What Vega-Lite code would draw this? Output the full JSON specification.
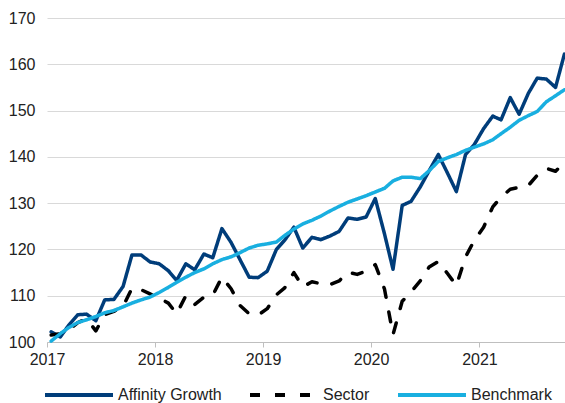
{
  "$schema": "https://vega.github.io/schema/vega-lite/v6.json",
  "width": 518,
  "height": 324,
  "autosize": {"type": "none"},
  "padding": {"left": 47, "top": 18, "right": 0, "bottom": 61},
  "config": {
    "view": {"stroke": null},
    "font": "Liberation Sans",
    "legend": {
      "orient": "none",
      "legendX": -4,
      "legendY": 341,
      "direction": "horizontal",
      "symbolType": "stroke",
      "symbolSize": 4624,
      "symbolStrokeWidth": 4,
      "labelFontSize": 16,
      "labelColor": "#222222",
      "labelOffset": 3,
      "columnPadding": 20,
      "title": null
    }
  },
  "data": {
    "values": [
      {"date": "2017-01-15", "Affinity Growth": 102.2, "Sector": 101.5, "Benchmark": 100.2},
      {"date": "2017-02-15", "Affinity Growth": 101.1, "Sector": 101.8, "Benchmark": 101.8},
      {"date": "2017-03-15", "Affinity Growth": 103.6, "Sector": 102.5, "Benchmark": 103.1},
      {"date": "2017-04-15", "Affinity Growth": 105.9, "Sector": 104.2, "Benchmark": 104.2},
      {"date": "2017-05-15", "Affinity Growth": 106.0, "Sector": 105.0, "Benchmark": 104.8},
      {"date": "2017-06-15", "Affinity Growth": 104.6, "Sector": 102.4, "Benchmark": 105.5},
      {"date": "2017-07-15", "Affinity Growth": 109.1, "Sector": 105.9, "Benchmark": 106.3},
      {"date": "2017-08-15", "Affinity Growth": 109.2, "Sector": 106.6, "Benchmark": 106.8},
      {"date": "2017-09-15", "Affinity Growth": 112.0, "Sector": 107.7, "Benchmark": 107.6},
      {"date": "2017-10-15", "Affinity Growth": 118.8, "Sector": 111.6, "Benchmark": 108.4},
      {"date": "2017-11-15", "Affinity Growth": 118.8, "Sector": 111.3, "Benchmark": 109.1},
      {"date": "2017-12-15", "Affinity Growth": 117.3, "Sector": 110.4, "Benchmark": 109.7},
      {"date": "2018-01-15", "Affinity Growth": 116.9, "Sector": 109.5, "Benchmark": 110.7},
      {"date": "2018-02-15", "Affinity Growth": 115.4, "Sector": 108.4, "Benchmark": 111.8},
      {"date": "2018-03-15", "Affinity Growth": 113.3, "Sector": 106.1, "Benchmark": 112.9},
      {"date": "2018-04-15", "Affinity Growth": 116.9, "Sector": 110.0, "Benchmark": 114.0},
      {"date": "2018-05-15", "Affinity Growth": 115.6, "Sector": 108.1, "Benchmark": 115.0},
      {"date": "2018-06-15", "Affinity Growth": 119.0, "Sector": 109.7, "Benchmark": 115.8},
      {"date": "2018-07-15", "Affinity Growth": 118.2, "Sector": 110.1, "Benchmark": 116.9},
      {"date": "2018-08-15", "Affinity Growth": 124.5, "Sector": 114.0, "Benchmark": 117.8},
      {"date": "2018-09-15", "Affinity Growth": 121.5, "Sector": 111.5, "Benchmark": 118.4},
      {"date": "2018-10-15", "Affinity Growth": 117.8, "Sector": 107.9, "Benchmark": 119.3},
      {"date": "2018-11-15", "Affinity Growth": 114.0, "Sector": 106.1, "Benchmark": 120.3},
      {"date": "2018-12-15", "Affinity Growth": 113.9, "Sector": 105.8, "Benchmark": 120.9},
      {"date": "2019-01-15", "Affinity Growth": 115.3, "Sector": 107.2, "Benchmark": 121.2},
      {"date": "2019-02-15", "Affinity Growth": 120.0, "Sector": 110.2, "Benchmark": 121.6},
      {"date": "2019-03-15", "Affinity Growth": 122.0, "Sector": 111.7, "Benchmark": 123.0},
      {"date": "2019-04-15", "Affinity Growth": 124.8, "Sector": 115.0, "Benchmark": 124.4},
      {"date": "2019-05-15", "Affinity Growth": 120.3, "Sector": 111.9, "Benchmark": 125.5},
      {"date": "2019-06-15", "Affinity Growth": 122.6, "Sector": 113.0, "Benchmark": 126.3},
      {"date": "2019-07-15", "Affinity Growth": 122.1, "Sector": 112.6, "Benchmark": 127.2},
      {"date": "2019-08-15", "Affinity Growth": 122.9, "Sector": 112.4, "Benchmark": 128.3},
      {"date": "2019-09-15", "Affinity Growth": 123.9, "Sector": 113.2, "Benchmark": 129.3},
      {"date": "2019-10-15", "Affinity Growth": 126.8, "Sector": 115.1, "Benchmark": 130.2},
      {"date": "2019-11-15", "Affinity Growth": 126.5, "Sector": 114.6, "Benchmark": 130.9},
      {"date": "2019-12-15", "Affinity Growth": 127.0, "Sector": 115.3, "Benchmark": 131.6},
      {"date": "2020-01-15", "Affinity Growth": 131.0, "Sector": 116.7, "Benchmark": 132.4},
      {"date": "2020-02-15", "Affinity Growth": 123.4, "Sector": 111.5, "Benchmark": 133.2},
      {"date": "2020-03-15", "Affinity Growth": 115.7, "Sector": 101.6, "Benchmark": 134.8},
      {"date": "2020-04-15", "Affinity Growth": 129.5, "Sector": 108.8, "Benchmark": 135.6},
      {"date": "2020-05-15", "Affinity Growth": 130.4, "Sector": 110.8, "Benchmark": 135.6},
      {"date": "2020-06-15", "Affinity Growth": 133.5, "Sector": 113.2, "Benchmark": 135.3},
      {"date": "2020-07-15", "Affinity Growth": 137.0, "Sector": 116.2, "Benchmark": 137.0},
      {"date": "2020-08-15", "Affinity Growth": 140.5, "Sector": 117.4, "Benchmark": 139.0},
      {"date": "2020-09-15", "Affinity Growth": 136.5, "Sector": 114.8, "Benchmark": 139.8},
      {"date": "2020-10-15", "Affinity Growth": 132.5, "Sector": 112.2, "Benchmark": 140.5},
      {"date": "2020-11-15", "Affinity Growth": 140.5, "Sector": 118.4, "Benchmark": 141.4},
      {"date": "2020-12-15", "Affinity Growth": 142.7, "Sector": 122.0, "Benchmark": 142.1},
      {"date": "2021-01-15", "Affinity Growth": 146.1, "Sector": 124.8, "Benchmark": 142.8},
      {"date": "2021-02-15", "Affinity Growth": 148.8, "Sector": 129.2, "Benchmark": 143.7},
      {"date": "2021-03-15", "Affinity Growth": 148.0, "Sector": 131.3, "Benchmark": 145.0},
      {"date": "2021-04-15", "Affinity Growth": 152.8, "Sector": 133.0, "Benchmark": 146.4},
      {"date": "2021-05-15", "Affinity Growth": 149.2, "Sector": 133.4, "Benchmark": 147.9},
      {"date": "2021-06-15", "Affinity Growth": 153.7, "Sector": 133.8, "Benchmark": 148.9},
      {"date": "2021-07-15", "Affinity Growth": 157.0, "Sector": 136.0, "Benchmark": 149.8},
      {"date": "2021-08-15", "Affinity Growth": 156.8, "Sector": 137.5, "Benchmark": 151.9},
      {"date": "2021-09-15", "Affinity Growth": 155.0, "Sector": 136.9, "Benchmark": 153.2},
      {"date": "2021-10-15", "Affinity Growth": 162.2, "Sector": 138.8, "Benchmark": 154.5}
    ]
  },
  "transform": [
    {"fold": ["Affinity Growth", "Sector", "Benchmark"], "as": ["series", "value"]}
  ],
  "mark": {"type": "line", "strokeWidth": 3.5, "strokeCap": "round", "strokeJoin": "round"},
  "encoding": {
    "x": {
      "field": "date",
      "type": "temporal",
      "scale": {"domain": ["2017-01-01", "2021-10-17"]},
      "axis": {
        "format": "%Y",
        "tickCount": {"interval": "year", "step": 1},
        "grid": false,
        "domainColor": "#bfbfbf",
        "tickColor": "#bfbfbf",
        "tickSize": 5,
        "labelFontSize": 16,
        "labelColor": "#222222",
        "labelPadding": 4,
        "labelFlush": false,
        "labelOverlap": false,
        "title": null
      }
    },
    "y": {
      "field": "value",
      "type": "quantitative",
      "scale": {"domain": [100, 170], "nice": false, "zero": false},
      "axis": {
        "values": [100, 110, 120, 130, 140, 150, 160, 170],
        "domain": false,
        "ticks": false,
        "gridColor": "#d9d9d9",
        "labelFontSize": 16,
        "labelColor": "#222222",
        "labelPadding": 12,
        "title": null
      }
    },
    "color": {
      "field": "series",
      "type": "nominal",
      "scale": {"domain": ["Affinity Growth", "Sector", "Benchmark"], "range": ["#003d7a", "#000000", "#19afe0"]},
      "title": null
    },
    "strokeDash": {
      "field": "series",
      "type": "nominal",
      "scale": {"domain": ["Affinity Growth", "Sector", "Benchmark"], "range": [[1, 0], [10, 15], [1, 0]]},
      "title": null
    }
  }
}
